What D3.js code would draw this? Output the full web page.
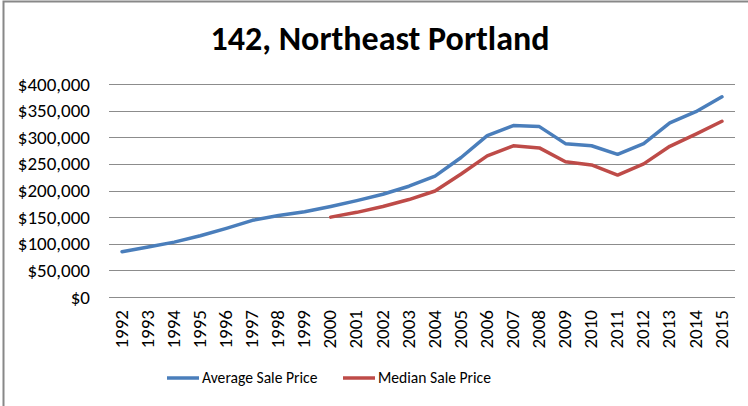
<!DOCTYPE html>
<html>
<head>
<meta charset="utf-8">
<script src="https://cdn.jsdelivr.net/npm/d3@7"></script>
<style>
  body { margin: 0; background: #fff; }
  svg { display: block; }
</style>
</head>
<body>
<svg id="chart" width="748" height="406"></svg>
<script>
const title = "142, Northeast Portland";
const years = ["1992","1993","1994","1995","1996","1997","1998","1999","2000","2001","2002","2003",
               "2004","2005","2006","2007","2008","2009","2010","2011","2012","2013","2014","2015"];
const average_price = [85000, 94000, 103000, 115000, 129000, 144000, 153000, 160000, 170000, 181000, 193000, 208000,
                       227000, 262000, 303000, 322000, 320000, 288000, 284000, 268000, 288000, 327000, 348000, 376000];
const median_price = [null, null, null, null, null, null, null, null, 150000, 159000, 170000, 183000,
                      199000, 231000, 265000, 284000, 280000, 254000, 248000, 229000, 250000, 283000, 306000, 330000];
const y_ticks = [0, 50000, 100000, 150000, 200000, 250000, 300000, 350000, 400000];
const series_names = ["Average Sale Price", "Median Sale Price"];
const series_colors = ["#4a7ebb", "#be4b48"];

const font = "Carlito, Calibri, Lato, 'Open Sans', sans-serif";
const plot_left = 109, plot_right = 735, plot_top = 84, plot_bottom = 297;

const svg = d3.select("#chart");

// chart frame (right and bottom edges fall outside the picture)
svg.append("rect")
    .attr("x", 3.5).attr("y", 1.5)
    .attr("width", 760).attr("height", 420)
    .attr("fill", "none")
    .attr("stroke", "#888888")
    .attr("stroke-width", 2);

svg.append("text")
    .attr("x", 380).attr("y", 50)
    .attr("text-anchor", "middle")
    .attr("font-family", font)
    .attr("font-weight", "bold")
    .attr("font-size", "34px")
    .attr("fill", "#000")
    .text(title);

const x = d3.scaleBand().domain(years).range([plot_left, plot_right]);
const y = d3.scaleLinear().domain([0, 400000]).range([plot_bottom, plot_top]);

// gridlines
svg.append("g")
    .selectAll("line")
    .data(y_ticks)
    .join("line")
    .attr("x1", plot_left).attr("x2", plot_right)
    .attr("y1", d => Math.round(y(d)) + 0.5)
    .attr("y2", d => Math.round(y(d)) + 0.5)
    .attr("stroke", "#8c8c8c")
    .attr("stroke-width", 1.2);

const fmt = d3.format("$,");
const yAxis = svg.append("g")
    .attr("transform", `translate(${plot_left},0)`)
    .call(d3.axisLeft(y).tickValues(y_ticks).tickFormat(fmt).tickSize(0).tickPadding(19));
yAxis.select(".domain").remove();
yAxis.selectAll("text")
    .attr("font-family", font)
    .attr("font-size", "19px")
    .attr("fill", "#000");

const xAxis = svg.append("g")
    .attr("transform", `translate(0,${plot_bottom})`)
    .call(d3.axisBottom(x).tickSize(0));
xAxis.select(".domain").remove();
xAxis.selectAll("text")
    .attr("font-family", font)
    .attr("font-size", "19px")
    .attr("fill", "#000")
    .attr("text-anchor", "end")
    .attr("dy", "0.35em")
    .attr("transform", "translate(-1,13) rotate(-90)")
    .attr("x", 0).attr("y", 0);

const line = d3.line()
    .defined(d => d != null)
    .x((d, i) => x(years[i]) + x.bandwidth() / 2)
    .y(d => y(d));

[average_price, median_price].forEach((vals, k) => {
    svg.append("path")
        .datum(vals)
        .attr("fill", "none")
        .attr("stroke", series_colors[k])
        .attr("stroke-width", 3.5)
        .attr("stroke-linejoin", "round")
        .attr("stroke-linecap", "round")
        .attr("d", line);
});

// legend
const legend_x = [167, 343];
series_names.forEach((name, k) => {
    const g = svg.append("g").attr("transform", `translate(${legend_x[k]},378)`);
    g.append("line")
        .attr("x1", 0).attr("x2", 32)
        .attr("stroke", series_colors[k])
        .attr("stroke-width", 3.5);
    g.append("text")
        .attr("x", 35).attr("dy", "0.35em")
        .attr("font-family", font)
        .attr("font-size", "15.6px")
        .attr("fill", "#000")
        .text(name);
});
</script>
</body>
</html>
